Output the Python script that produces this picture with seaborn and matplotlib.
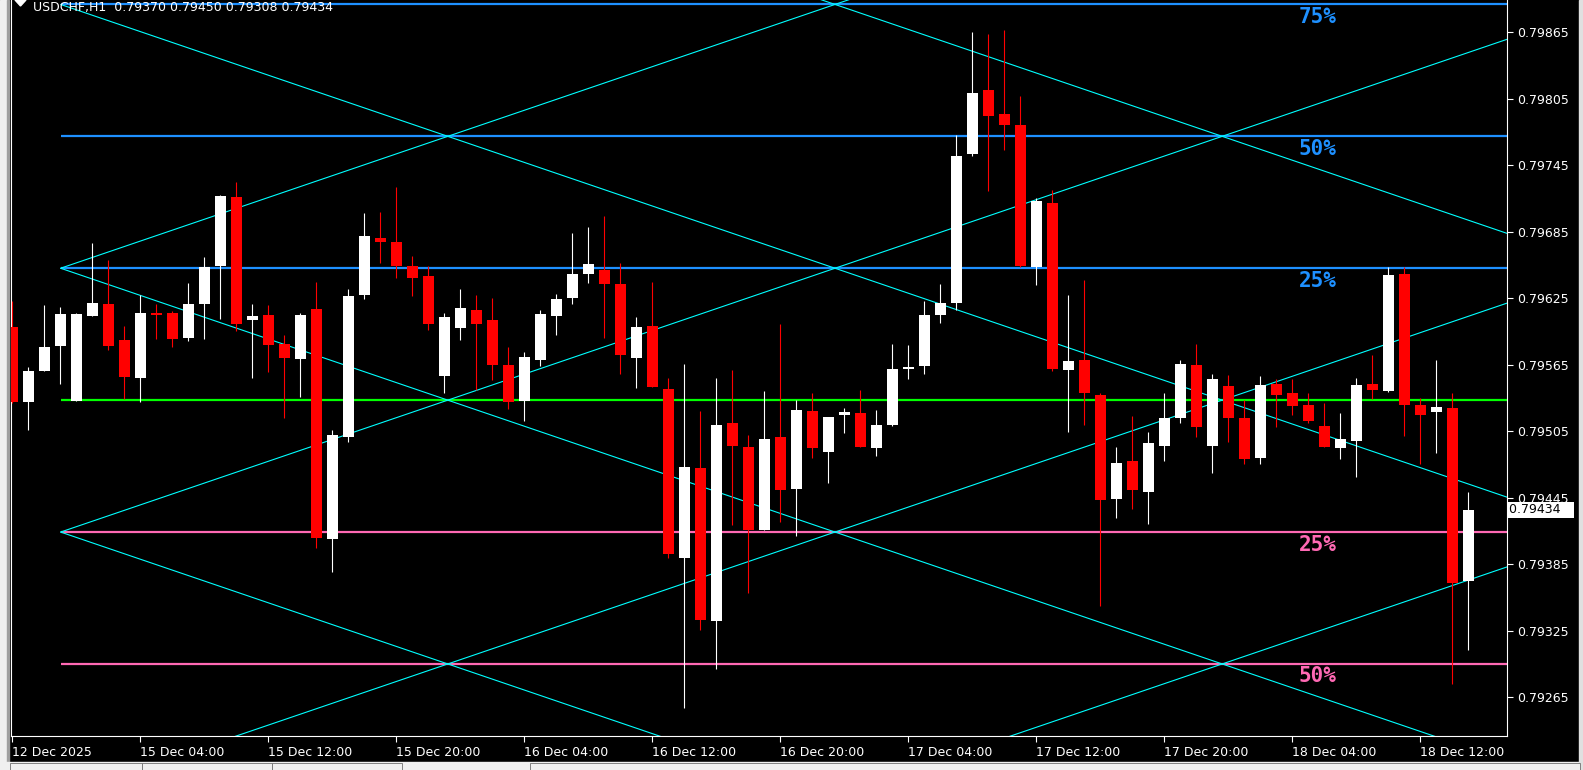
import numpy as np
import pandas as pd
import matplotlib
matplotlib.use("Agg")
import matplotlib.pyplot as plt
import seaborn as sns
from matplotlib.patches import Rectangle, Polygon

# ---------------- data ----------------
symbol_title = "USDCHF,H1  0.79370 0.79450 0.79308 0.79434"

opens = [
    0.79599, 0.79531, 0.79559, 0.79582, 0.79532, 0.79609, 0.79620, 0.79587, 0.79553, 0.79612,
    0.79612, 0.79589, 0.79620, 0.79654, 0.79716, 0.79605, 0.79610, 0.79584, 0.79570, 0.79615,
    0.79408, 0.79500, 0.79628, 0.79679, 0.79676, 0.79654, 0.79645, 0.79555, 0.79598, 0.79614,
    0.79605, 0.79565, 0.79532, 0.79569, 0.79609, 0.79625, 0.79647, 0.79650, 0.79638, 0.79571,
    0.79600, 0.79543, 0.79391, 0.79472, 0.79334, 0.79512, 0.79491, 0.79416, 0.79500, 0.79453,
    0.79523, 0.79486, 0.79520, 0.79521, 0.79490, 0.79511, 0.79561, 0.79564, 0.79610, 0.79621,
    0.79755, 0.79813, 0.79791, 0.79781, 0.79653, 0.79711, 0.79560, 0.79569, 0.79538, 0.79444,
    0.79478, 0.79450, 0.79492, 0.79517, 0.79565, 0.79492, 0.79546, 0.79517, 0.79481, 0.79548,
    0.79539, 0.79529, 0.79510, 0.79490, 0.79496, 0.79548, 0.79541, 0.79647, 0.79529, 0.79522,
    0.79526, 0.79370]

highs = [
    0.79622, 0.79563, 0.79619, 0.79617, 0.79612, 0.79675, 0.79659, 0.79600, 0.79628, 0.79620,
    0.79613, 0.79639, 0.79662, 0.79718, 0.79730, 0.79620, 0.79619, 0.79592, 0.79612, 0.79640,
    0.79506, 0.79633, 0.79702, 0.79703, 0.79725, 0.79663, 0.79654, 0.79612, 0.79633, 0.79628,
    0.79625, 0.79581, 0.79576, 0.79614, 0.79629, 0.79684, 0.79689, 0.79699, 0.79657, 0.79608,
    0.79640, 0.79553, 0.79566, 0.79523, 0.79553, 0.79560, 0.79502, 0.79541, 0.79602, 0.79533,
    0.79539, 0.79518, 0.79526, 0.79542, 0.79524, 0.79584, 0.79583, 0.79622, 0.79638, 0.79772,
    0.79865, 0.79863, 0.79867, 0.79807, 0.79715, 0.79723, 0.79628, 0.79641, 0.79539, 0.79491,
    0.79519, 0.79504, 0.79539, 0.79569, 0.79584, 0.79557, 0.79556, 0.79533, 0.79555, 0.79552,
    0.79552, 0.79539, 0.79530, 0.79521, 0.79553, 0.79574, 0.79653, 0.79653, 0.79535, 0.79569,
    0.79539, 0.79450]

lows = [
    0.79530, 0.79506, 0.79559, 0.79548, 0.79532, 0.79609, 0.79578, 0.79534, 0.79531, 0.79588,
    0.79581, 0.79586, 0.79588, 0.79606, 0.79595, 0.79553, 0.79558, 0.79517, 0.79536, 0.79400,
    0.79378, 0.79495, 0.79624, 0.79657, 0.79643, 0.79627, 0.79596, 0.79539, 0.79587, 0.79542,
    0.79551, 0.79525, 0.79514, 0.79564, 0.79592, 0.79620, 0.79639, 0.79589, 0.79557, 0.79544,
    0.79545, 0.79391, 0.79255, 0.79326, 0.79290, 0.79420, 0.79359, 0.79416, 0.79423, 0.79410,
    0.79481, 0.79458, 0.79503, 0.79491, 0.79483, 0.79510, 0.79552, 0.79557, 0.79603, 0.79614,
    0.79753, 0.79722, 0.79759, 0.79653, 0.79637, 0.79559, 0.79504, 0.79511, 0.79347, 0.79427,
    0.79435, 0.79421, 0.79478, 0.79512, 0.79500, 0.79467, 0.79495, 0.79475, 0.79475, 0.79509,
    0.79520, 0.79512, 0.79491, 0.79480, 0.79464, 0.79534, 0.79540, 0.79501, 0.79475, 0.79485,
    0.79277, 0.79308]

closes = [
    0.79531, 0.79559, 0.79581, 0.79611, 0.79611, 0.79621, 0.79582, 0.79554, 0.79612, 0.79610,
    0.79588, 0.79620, 0.79653, 0.79717, 0.79602, 0.79609, 0.79583, 0.79571, 0.79610, 0.79409,
    0.79502, 0.79627, 0.79681, 0.79676, 0.79654, 0.79643, 0.79602, 0.79608, 0.79616, 0.79602,
    0.79565, 0.79531, 0.79572, 0.79611, 0.79624, 0.79647, 0.79656, 0.79638, 0.79574, 0.79599,
    0.79545, 0.79394, 0.79473, 0.79335, 0.79511, 0.79492, 0.79416, 0.79498, 0.79452, 0.79524,
    0.79490, 0.79518, 0.79522, 0.79491, 0.79511, 0.79561, 0.79563, 0.79610, 0.79621, 0.79753,
    0.79810, 0.79789, 0.79781, 0.79654, 0.79713, 0.79561, 0.79568, 0.79539, 0.79443, 0.79476,
    0.79452, 0.79494, 0.79517, 0.79566, 0.79509, 0.79552, 0.79517, 0.79480, 0.79547, 0.79538,
    0.79528, 0.79514, 0.79491, 0.79498, 0.79547, 0.79542, 0.79646, 0.79529, 0.79520, 0.79527,
    0.79368, 0.79434]

tick_bars = [0, 8, 16, 24, 32, 40, 48, 56, 64, 72, 80, 88]
tick_labels = ["12 Dec 2025", "15 Dec 04:00", "15 Dec 12:00", "15 Dec 20:00",
               "16 Dec 04:00", "16 Dec 12:00", "16 Dec 20:00", "17 Dec 04:00",
               "17 Dec 12:00", "17 Dec 20:00", "18 Dec 04:00", "18 Dec 12:00"]
price_ticks = [0.79265, 0.79325, 0.79385, 0.79445, 0.79505, 0.79565,
               0.79625, 0.79685, 0.79745, 0.79805, 0.79865]

level_mid = 0.79533
level_step = 0.00119
level_steps = [3, 2, 1, 0, -1, -2]
level_names = ["75%", "50%", "25%", "", "25%", "50%"]
grid_anchor_bar = 3.02
grid_period_bars = 24.2
up_line_steps = [1, -1, -3, -5]
down_line_steps = [5, 3, 1, -1]
last_price = 0.79434

# ---------------- style ----------------
sns.set_theme(style="dark")
plt.rcParams["font.family"] = ["DejaVu Sans"]

W, H = 1583, 770
fig = plt.figure(figsize=(W / 100, H / 100), dpi=100, facecolor="black")
ax_left, ax_right, ax_bottom, ax_top = 11, 1507, 736, 0
ax = fig.add_axes([ax_left / W, (H - ax_bottom) / H,
                   (ax_right - ax_left) / W, (ax_bottom - ax_top) / H])
ax.set_facecolor("black")
x_min, x_max = -0.08, 93.42
y_min, y_max = 0.79230, 0.79894

# ---------------- candles ----------------
df = pd.DataFrame({"o": opens, "h": highs, "l": lows, "c": closes})
df["i"] = np.arange(len(df))
bull = df["c"] >= df["o"]
cols = np.where(bull, "#FFFFFF", "#FF0000")
ax.vlines(df["i"], df["l"], df["h"], colors=cols, linewidth=0.8, zorder=3)
body_low = np.minimum(df["o"], df["c"])
body_h = np.maximum(np.abs(df["c"] - df["o"]), 0.000015)
ax.bar(df["i"], body_h, bottom=body_low, width=0.69, color=cols,
       linewidth=0, zorder=4)

# ---------------- levels ----------------
for k, name in zip(level_steps, level_names):
    lvl = level_mid + k * level_step
    if k > 0:
        col = "#1E90FF"
    elif k == 0:
        col = "#00FF00"
    else:
        col = "#FF69B4"
    ax.hlines(lvl, grid_anchor_bar, x_max, colors=col, linewidth=1.6, zorder=2)
    if name:
        ax.text(81.6, lvl - 0.000113, name, ha="center", va="center",
                color=col, fontsize=15, family="DejaVu Sans Mono",
                weight="bold", zorder=5)

slope = level_step / grid_period_bars
xs = np.array([grid_anchor_bar, x_max])
for k in up_line_steps:
    ys = level_mid + k * level_step + slope * (xs - grid_anchor_bar)
    sns.lineplot(x=xs, y=ys, ax=ax, color="#00FFFF", linewidth=0.8,
                 estimator=None, sort=False, legend=False, zorder=2)
for k in down_line_steps:
    ys = level_mid + k * level_step - slope * (xs - grid_anchor_bar)
    sns.lineplot(x=xs, y=ys, ax=ax, color="#00FFFF", linewidth=0.8,
                 estimator=None, sort=False, legend=False, zorder=2)
ax.set_xlim(x_min, x_max)
ax.set_ylim(y_min, y_max)

# ---------------- axes ----------------
ax.grid(False)
ax.yaxis.tick_right()
ax.set_yticks(price_ticks)
ax.set_yticklabels([f"{p:.5f}" for p in price_ticks])
ax.set_xticks(tick_bars)
ax.set_xticklabels(tick_labels, ha="left")
ax.tick_params(axis="y", colors="white", direction="out", length=4, width=0.8,
               labelsize=9, pad=3, right=True, left=False, labelcolor="white")
ax.tick_params(axis="x", colors="white", direction="out", length=4, width=0.8,
               labelsize=9, pad=3, bottom=True, labelcolor="white")
ax.set_xlabel("")
ax.set_ylabel("")
for side in ["right", "bottom", "left"]:
    ax.spines[side].set_visible(True)
    ax.spines[side].set_color("white")
    ax.spines[side].set_linewidth(0.8)
ax.spines["top"].set_visible(False)

ax.text(1.0014, last_price, "0.79434   ", transform=ax.get_yaxis_transform(),
        ha="left", va="center", color="black", fontsize=9,
        bbox=dict(facecolor="white", edgecolor="none", boxstyle="square,pad=0.12"),
        zorder=6, clip_on=False)

# ---------------- window decorations ----------------
fig.text(33 / W, 1 - 1 / H, symbol_title, color="white", fontsize=9,
         ha="left", va="top")
fig.add_artist(Polygon([[15 / W, 1 - 0 / H], [26 / W, 1 - 0 / H], [20.5 / W, 1 - 6 / H]],
                       closed=True, transform=fig.transFigure, color="white"))
fig.add_artist(Rectangle((0, 0), 8 / W, 1, transform=fig.transFigure,
                         color="#F0F0F0", zorder=0))
fig.add_artist(Rectangle((7 / W, 0), 2 / W, 1, transform=fig.transFigure,
                         color="#A0A0A0", zorder=0))
fig.add_artist(Rectangle((0, 0), 1, 8 / H, transform=fig.transFigure,
                         color="#F0F0F0", zorder=0))
fig.add_artist(Rectangle((1579 / W, 0), 4 / W, 1, transform=fig.transFigure,
                         color="#E0E0E0", zorder=0))
for x0, x1 in [(10, 142), (142, 272), (272, 402), (530, 1580)]:
    fig.add_artist(Rectangle((x0 / W, 0), (x1 - x0) / W, 7 / H,
                             transform=fig.transFigure, facecolor="#F0F0F0",
                             edgecolor="#707070", linewidth=0.6, zorder=1))

fig.savefig("out.png", dpi=100, facecolor="black")
